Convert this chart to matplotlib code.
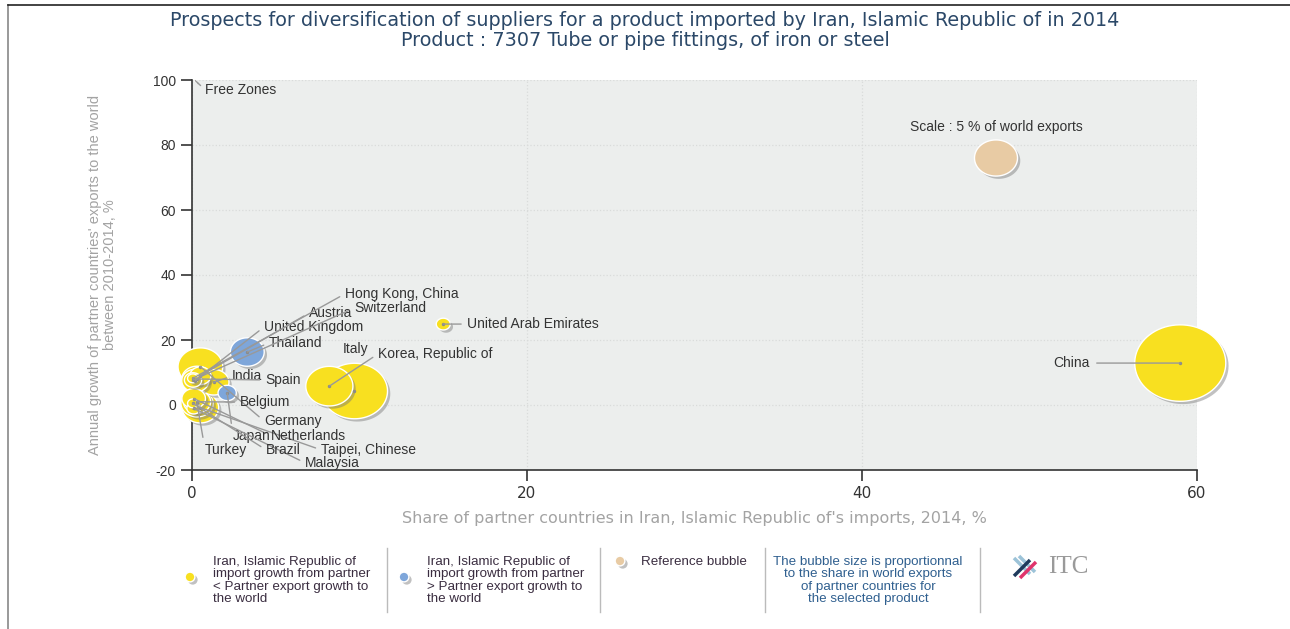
import matplotlib.pyplot as plt
import matplotlib.patheffects as pe
from matplotlib.path import Path
from matplotlib.lines import Line2D
import numpy as np

plt.rcParams["font.family"] = ["Liberation Sans", "DejaVu Sans"]
plt.rcParams["axes.unicode_minus"] = False

# --- data ---
countries = ["China", "Italy", "Korea, Republic of", "Germany", "Taipei, Chinese",
             "Thailand", "India", "Spain", "Turkey", "United Kingdom", "Belgium",
             "Netherlands", "Austria", "Japan", "Switzerland", "United Arab Emirates",
             "Malaysia", "Hong Kong, China", "Brazil", "Free Zones"]
share_iran = [59.0, 9.7, 8.2, 0.5, 0.5, 3.3, 1.3, 0.3, 0.3, 0.2, 0.3,
              0.1, 0.5, 2.1, 0.06, 15.0, 0.1, 0.05, 0.05, 0.2]
growth = [12.9, 4.3, 5.8, 11.8, -0.8, 16.3, 7.0, 8.0, 0.5, 7.5, 1.0,
          2.0, 9.0, 3.7, 7.7, 24.9, -1.0, 8.2, 0.5, 99.8]
world_share = [22.4, 11.8, 6.0, 5.4, 3.6, 3.1, 2.5, 2.5, 2.8, 2.0, 2.0,
               1.5, 1.2, 0.9, 0.8, 0.53, 0.5, 0.3, 0.3, 0.01]
group = ["lower", "lower", "lower", "lower", "lower", "higher", "lower", "lower",
         "lower", "lower", "lower", "lower", "lower", "higher", "lower", "lower",
         "lower", "lower", "lower", "lower"]
ref_x, ref_y, ref_share = 48.0, 76.0, 5.0

# label positions (data coords, left edge of text)
label_pos = {
    "Hong Kong, China": (9.13, 34.2), "Switzerland": (9.67, 29.8),
    "Austria": (6.99, 28.3), "United Kingdom": (4.30, 24.0),
    "Thailand": (4.60, 19.1), "India": (2.39, 8.9), "Spain": (4.36, 7.7),
    "Belgium": (2.87, 0.9), "Germany": (4.30, -4.9), "Japan": (2.45, -9.5),
    "Netherlands": (4.72, -9.5), "Turkey": (0.78, -13.8), "Brazil": (4.42, -13.8),
    "Taipei, Chinese": (7.70, -13.8), "Malaysia": (6.75, -17.8),
    "Italy": (9.01, 17.2), "Korea, Republic of": (11.1, 15.7),
    "United Arab Emirates": (16.4, 24.9), "China": (53.6, 12.9),
    "Free Zones": (0.8, 96.9),
}

colors = {"lower": "#f8e020", "higher": "#7ea6da"}
size_scale = 192  # points^2 per % of world exports
lab_fs = 10

# elliptical bubble marker
t = np.linspace(0, 2 * np.pi, 80)
ellipse = Path(np.column_stack([np.cos(t), 0.84 * np.sin(t)]), closed=True)

fig = plt.figure(figsize=(12.9, 6.29), dpi=100)
ax = fig.add_axes([192 / 1290, 1 - 470 / 629, 1005 / 1290, 390 / 629])
ax.set_facecolor("#eceeed")

shadow = [pe.SimplePatchShadow(offset=(2, -2), shadow_rgbFace="#777777", alpha=0.45),
          pe.Normal()]

order = np.argsort(world_share)[::-1]
for i in order:
    ax.scatter(share_iran[i], growth[i], s=world_share[i] * size_scale,
               marker=ellipse, color=colors[group[i]], edgecolors="white",
               linewidths=1.0, zorder=3, path_effects=shadow, clip_on=False)
ax.scatter(ref_x, ref_y, s=ref_share * size_scale, marker=ellipse, color="#e8cba4",
           edgecolors="white", linewidths=1.0, zorder=3, path_effects=shadow)
ax.text(ref_x, ref_y + 9.5, "Scale : 5 % of world exports", ha="center", va="center",
        fontsize=lab_fs, color="#333333", zorder=6)

# center dots and labels with leader lines
for i, name in enumerate(countries):
    x, y = share_iran[i], growth[i]
    tx, ty = label_pos[name]
    if name != "Free Zones":
        ax.scatter(x, y, s=6, color="#8a8a8a", zorder=5, linewidths=0, clip_on=False)
    if name == "China":
        ax.annotate(name, (x, y), xytext=(tx, ty), ha="right", va="center",
                    fontsize=lab_fs, color="#333333", zorder=6,
                    arrowprops=dict(arrowstyle="-", color="#999999", lw=1,
                                    shrinkA=3, shrinkB=0, relpos=(1, 0.5)))
    elif name == "Italy":
        ax.text(tx, ty, name, ha="left", va="center", fontsize=lab_fs, color="#333333", zorder=6)
    else:
        ax.annotate(name, (x, y), xytext=(tx, ty), ha="left", va="center",
                    fontsize=lab_fs, color="#333333", zorder=6,
                    arrowprops=dict(arrowstyle="-", color="#999999", lw=1,
                                    shrinkA=2, shrinkB=0, relpos=(0, 0.5)))

ax.set_xlim(0, 60)
ax.set_ylim(-20, 100)
ax.set_xticks([0, 20, 40, 60])
ax.set_yticks([-20, 0, 20, 40, 60, 80, 100])
ax.grid(True, color="#d9dbda", linestyle=":", linewidth=0.9, zorder=0)
ax.set_axisbelow(True)
for s in ["top", "right"]:
    ax.spines[s].set_visible(False)
for s in ["left", "bottom"]:
    ax.spines[s].set_color("#333333")
    ax.spines[s].set_linewidth(1.2)
ax.tick_params(axis="both", direction="out", length=8, width=1.2, color="#333333",
               labelsize=10, labelcolor="#333333")
for lab in ax.get_xticklabels():
    lab.set_family("DejaVu Sans")
    lab.set_fontsize(11)
ax.set_xlabel("Share of partner countries in Iran, Islamic Republic of's imports, 2014, %",
              fontsize=11.5, color="#a3a3a3", labelpad=7, family="DejaVu Sans")
ax.set_ylabel("Annual growth of partner countries' exports to the world\nbetween 2010-2014, %",
              fontsize=10.5, color="#a3a3a3", labelpad=26, linespacing=1.05)

fig.text(0.5, 1 - 20 / 629, "Prospects for diversification of suppliers for a product imported by Iran, Islamic Republic of in 2014",
         ha="center", va="center", fontsize=13.8, color="#2b4868", family="DejaVu Sans")
fig.text(0.5, 1 - 40 / 629, "Product : 7307 Tube or pipe fittings, of iron or steel",
         ha="center", va="center", fontsize=13.8, color="#2b4868", family="DejaVu Sans")

# frame
fig.add_artist(Line2D([8 / 1290, 8 / 1290], [0, 1 - 5 / 629], color="#888888", lw=1.2))
fig.add_artist(Line2D([8 / 1290, 1], [1 - 5 / 629, 1 - 5 / 629], color="#222222", lw=1.2))

# legend strip
def fx(px):
    return px / 1290

def fy(py):
    return 1 - py / 629

for px in [387, 600, 765, 980]:
    fig.add_artist(Line2D([fx(px), fx(px)], [fy(548), fy(612)], color="#bbbbbb", lw=1))

leg_txt = dict(fontsize=9.6, color="#3a2d40", va="top", ha="left", linespacing=1.05)
fig.add_artist(Line2D([fx(190)], [fy(577)], marker="o", ms=7, color=colors["lower"],
                      markeredgecolor="white", path_effects=shadow))
fig.text(fx(213), fy(556), "Iran, Islamic Republic of\nimport growth from partner\n< Partner export growth to\nthe world", **leg_txt)
fig.add_artist(Line2D([fx(404)], [fy(577)], marker="o", ms=7, color=colors["higher"],
                      markeredgecolor="white", path_effects=shadow))
fig.text(fx(427), fy(556), "Iran, Islamic Republic of\nimport growth from partner\n> Partner export growth to\nthe world", **leg_txt)
fig.add_artist(Line2D([fx(620)], [fy(561)], marker="o", ms=7, color="#e8cba4",
                      markeredgecolor="white", path_effects=shadow))
fig.text(fx(641), fy(556), "Reference bubble", **leg_txt)
fig.text(fx(868), fy(556), "The bubble size is proportionnal\nto the share in world exports\nof partner countries for\nthe selected product",
         fontsize=9.6, color="#2f5f8f", va="top", ha="center", linespacing=1.05)

# ITC logo
for (x0, y0, x1, y1, c) in [(1014, 558, 1030, 574, "#9cc3d8"), (1019, 556, 1035, 572, "#9cc3d8"),
                            (1014, 576, 1030, 560, "#1f3a5c"), (1020, 578, 1036, 562, "#e0346c")]:
    fig.add_artist(Line2D([fx(x0), fx(x1)], [fy(y0), fy(y1)], color=c, lw=2.5,
                          solid_capstyle="butt"))
fig.text(fx(1048), fy(567), "ITC", fontsize=18, color="#9a9a9a", va="center", ha="left",
         family="Liberation Serif")

fig.savefig("out.png", dpi=100)
